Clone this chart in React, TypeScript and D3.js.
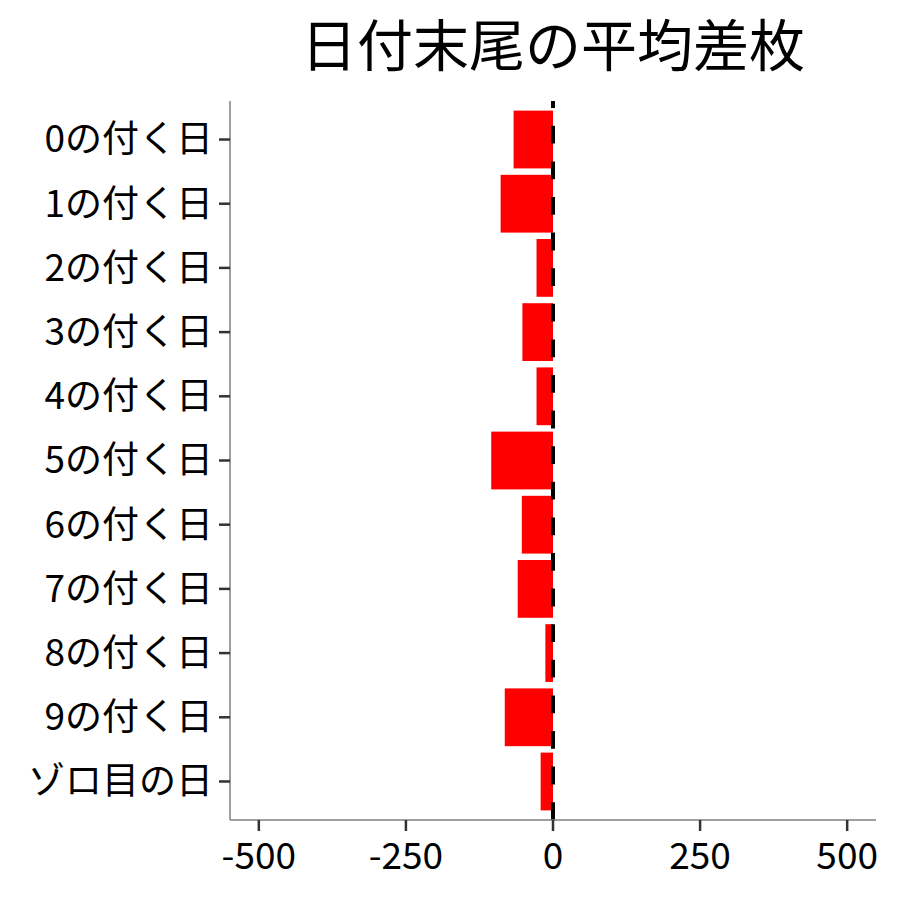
import React from "react";
import * as d3 from "d3";

const W = 900;
const H = 900;

const categories = [
  "0の付く日",
  "1の付く日",
  "2の付く日",
  "3の付く日",
  "4の付く日",
  "5の付く日",
  "6の付く日",
  "7の付く日",
  "8の付く日",
  "9の付く日",
  "ゾロ目の日",
];
const diffValues = [-67, -89, -28, -52, -28, -105, -53, -60, -13, -82, -21];
const xTicks = [-500, -250, 0, 250, 500];
const TITLE = "日付末尾の平均差枚";

const FONT = "'Noto Sans CJK JP', 'Noto Sans', sans-serif";

const margin = { top: 101, right: 24, bottom: 80, left: 230 };

export default function App() {
  const x = d3
    .scaleLinear()
    .domain([-549, 549])
    .range([margin.left, W - margin.right]);

  // ggplot-like discrete expansion: 0.6 step on each side, bar width 0.9
  const y = d3
    .scaleBand<string>()
    .domain(categories)
    .range([margin.top, H - margin.bottom])
    .paddingInner(0.1)
    .paddingOuter(0.15);

  const data = categories.map((c, i) => ({ name: c, value: diffValues[i] }));
  const x0 = x(0);
  const bottom = H - margin.bottom;

  return (
    <svg
      width={W}
      height={H}
      style={{ position: "absolute", left: 0, top: 0, background: "#fff" }}
      fontFamily={FONT}
    >
      <text
        x={(margin.left + W - margin.right) / 2}
        y={66}
        textAnchor="middle"
        fontSize={56}
        fill="#000"
      >
        {TITLE}
      </text>

      {/* bars */}
      <g>
        {data.map((d) => (
          <rect
            key={d.name}
            x={Math.min(x(d.value), x0)}
            width={Math.abs(x(d.value) - x0)}
            y={y(d.name)}
            height={y.bandwidth()}
            fill="#FF0000"
          />
        ))}
      </g>

      {/* zero line, drawn bottom to top */}
      <line
        x1={x0}
        x2={x0}
        y1={bottom}
        y2={margin.top}
        stroke="#000"
        strokeWidth={4}
        strokeDasharray="17.8,17.8"
      />

      {/* y axis */}
      <g>
        <line
          x1={margin.left}
          x2={margin.left}
          y1={margin.top}
          y2={bottom}
          stroke="#7f7f7f"
          strokeWidth={1.5}
        />
        {categories.map((c) => {
          const cy = (y(c) ?? 0) + y.bandwidth() / 2;
          return (
            <g key={c}>
              <line
                x1={margin.left - 11}
                x2={margin.left}
                y1={cy}
                y2={cy}
                stroke="#333"
                strokeWidth={2.5}
              />
              <text
                x={margin.left - 17}
                y={cy}
                dy="0.35em"
                textAnchor="end"
                fontSize={37}
                fill="#000"
              >
                {c}
              </text>
            </g>
          );
        })}
      </g>

      {/* x axis */}
      <g>
        <line
          x1={margin.left}
          x2={W - margin.right}
          y1={bottom}
          y2={bottom}
          stroke="#7f7f7f"
          strokeWidth={1.5}
        />
        {xTicks.map((t) => (
          <g key={t}>
            <line
              x1={x(t)}
              x2={x(t)}
              y1={bottom}
              y2={bottom + 11}
              stroke="#333"
              strokeWidth={2.5}
            />
            <text
              x={x(t)}
              y={bottom + 49}
              textAnchor="middle"
              fontSize={37}
              fill="#000"
            >
              {t}
            </text>
          </g>
        ))}
      </g>
    </svg>
  );
}
